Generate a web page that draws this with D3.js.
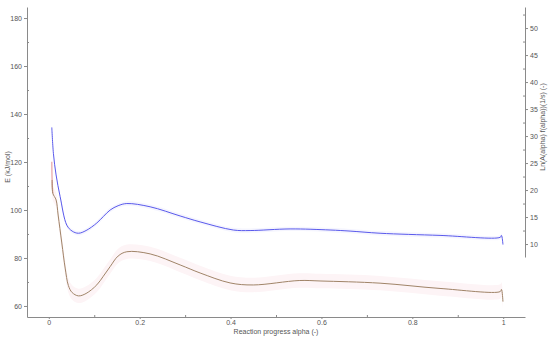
<!DOCTYPE html>
<html>
<head>
<meta charset="utf-8">
<script src="https://cdn.jsdelivr.net/npm/d3@7"></script>
<style>
  body { margin: 0; background: #fff; }
  text { font-family: "Liberation Sans", Arial, sans-serif; }
</style>
</head>
<body>
<div id="chart"></div>
<script>
// alpha values and the two series
var alphaBlue = [0.0066, 0.0101, 0.016, 0.0249, 0.0396, 0.0513, 0.0652, 0.082, 0.1057, 0.12, 0.135, 0.1525, 0.1717,
  0.223, 0.289, 0.333, 0.406, 0.443, 0.531, 0.619, 0.663, 0.729, 0.861, 0.9935, 0.9962, 0.9995];
var lnA = [31.6, 26.8, 22.8, 18.8, 13.5, 12.4, 12.0, 12.5, 13.9, 15.1, 16.3, 17.1, 17.5,
  16.9, 15.2, 14.1, 12.6, 12.5, 12.8, 12.6, 12.4, 12.0, 11.6, 11.25, 11.6, 9.9];

var alphaBrown = [0.0073, 0.0088, 0.016, 0.0205, 0.0286, 0.036, 0.0431, 0.0513, 0.0652, 0.082, 0.1057, 0.12, 0.135,
  0.1525, 0.1717, 0.223, 0.289, 0.333, 0.399, 0.45, 0.551, 0.599, 0.729, 0.861, 0.9935, 0.9962, 0.9995];
var energy = [112.5, 107.0, 104.2, 97.9, 86.25, 75.8, 68.5, 65.6, 64.2, 65.2, 68.8, 72.4, 76.4,
  80.8, 82.6, 81.7, 77.1, 73.75, 69.6, 68.75, 70.6, 70.4, 69.5, 67.3, 66.0, 66.9, 61.8];

// very first part of E, drawn in light red
var alphaStart = [0.0066, 0.0073, 0.0088];
var energyStart = [120.1, 112.5, 107.0];

var xTicks = [0, 0.2, 0.4, 0.6, 0.8, 1];
var leftTicks = [60, 80, 100, 120, 140, 160, 180];
var rightTicks = [10, 15, 20, 25, 30, 35, 40, 45, 50];

var width = 550, height = 337;

var svg = d3.select("#chart")
  .append("svg")
  .attr("width", width)
  .attr("height", height);

var x = d3.scaleLinear()
  .domain([-0.048, 1.048])
  .range([27, 525]);

var yL = d3.scaleLinear()
  .domain([55.4, 184.6])
  .range([317, 7]);

var yR = d3.scaleLinear()
  .domain([7.6, 53.9])
  .range([257, 7]);

var axisColor = "#8a8a8a", labelColor = "#555";
var smooth = d3.curveCatmullRom.alpha(0.5);

// faint bands around the curves
var band = d3.area()
  .x(function(d) { return x(d[0]); })
  .y0(function(d) { return yL(d[1] - 3); })
  .y1(function(d) { return yL(d[1] + 3); })
  .curve(smooth);
svg.append("path")
  .datum(d3.zip(alphaBrown, energy))
  .attr("d", band)
  .style("fill", "#fdf4f6");

var bandB = d3.area()
  .x(function(d) { return x(d[0]); })
  .y0(function(d) { return yR(d[1] - 0.4); })
  .y1(function(d) { return yR(d[1] + 0.4); })
  .curve(smooth);
svg.append("path")
  .datum(d3.zip(alphaBlue, lnA))
  .attr("d", bandB)
  .style("fill", "#f5f5fe");

// axes
function styleAxis(g) {
  g.selectAll("path, line").attr("stroke", axisColor);
  g.selectAll("text").attr("fill", labelColor).style("font-size", "7px");
}

svg.append("g")
  .attr("transform", "translate(0,317)")
  .call(d3.axisBottom(x).tickValues(xTicks).tickSize(2).tickPadding(1).tickSizeOuter(0)
    .tickFormat(function(d) { return d === 0 || d === 1 ? d3.format("d")(d) : d3.format(".1f")(d); }))
  .call(styleAxis);
svg.append("g")
  .attr("transform", "translate(0,317)")
  .call(d3.axisTop(x).tickValues([0.1, 0.3, 0.5, 0.7, 0.9]).tickSize(2).tickFormat(""))
  .call(function(g) { g.select(".domain").remove(); })
  .call(styleAxis);

svg.append("g")
  .attr("transform", "translate(27,0)")
  .call(d3.axisLeft(yL).tickValues(leftTicks).tickSize(3).tickPadding(2).tickSizeOuter(0))
  .call(styleAxis);
svg.append("g")
  .attr("transform", "translate(27,0)")
  .call(d3.axisRight(yL).tickValues([70, 90, 110, 130, 150, 170]).tickSize(2).tickFormat(""))
  .call(function(g) { g.select(".domain").remove(); })
  .call(styleAxis);

svg.append("g")
  .attr("transform", "translate(525,0)")
  .call(d3.axisRight(yR).tickValues(rightTicks).tickSize(3).tickPadding(2).tickSizeOuter(0))
  .call(styleAxis);
svg.append("g")
  .attr("transform", "translate(525,0)")
  .call(d3.axisLeft(yR).tickValues([12.5, 17.5, 22.5, 27.5, 32.5, 37.5, 42.5, 47.5, 52.5]).tickSize(2).tickFormat(""))
  .call(function(g) { g.select(".domain").remove(); })
  .call(styleAxis);

// axis titles
svg.append("text")
  .attr("x", 276).attr("y", 334)
  .attr("text-anchor", "middle")
  .style("font-size", "7px").attr("fill", labelColor)
  .text("Reaction progress alpha (-)");

svg.append("text")
  .attr("transform", "translate(10,167) rotate(-90)")
  .attr("text-anchor", "middle")
  .style("font-size", "7px").attr("fill", labelColor)
  .text("E (kJ/mol)");

svg.append("text")
  .attr("transform", "translate(545,127) rotate(-90)")
  .attr("text-anchor", "middle")
  .style("font-size", "7px").attr("fill", labelColor)
  .text("Ln(A(alpha) f(alpha))(1/s) (-)");

// lines
var lineL = d3.line()
  .x(function(d) { return x(d[0]); })
  .y(function(d) { return yL(d[1]); })
  .curve(smooth);
var lineR = d3.line()
  .x(function(d) { return x(d[0]); })
  .y(function(d) { return yR(d[1]); })
  .curve(smooth);

svg.append("path")
  .datum(d3.zip(alphaStart, energyStart))
  .attr("d", lineL)
  .style("fill", "none").style("stroke", "#e8a3a3").style("stroke-width", 1.2);

svg.append("path")
  .datum(d3.zip(alphaBrown, energy))
  .attr("d", lineL)
  .style("fill", "none").style("stroke", "#a08468").style("stroke-width", 1);

svg.append("path")
  .datum(d3.zip(alphaBlue, lnA))
  .attr("d", lineR)
  .style("fill", "none").style("stroke", "#5a5aec").style("stroke-width", 1);
</script>
</body>
</html>
